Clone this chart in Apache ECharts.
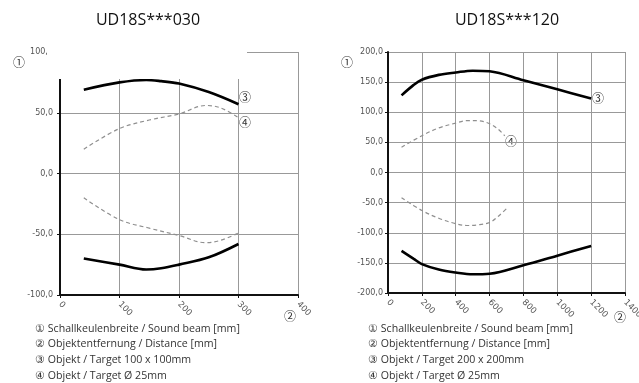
<!DOCTYPE html>
<html><head><meta charset="utf-8">
<script src="https://cdn.jsdelivr.net/npm/echarts@6/dist/echarts.min.js"></script>
<style>html,body{margin:0;padding:0;background:#fff}#c{width:639px;height:383px}</style>
</head><body><div id="c"></div>
<script>
// ---- Data: left chart UD18S***030 ----
const titles = ['UD18S***030', 'UD18S***120'];
const leftTargetX = [40, 100, 145, 170, 200, 250, 300];
const leftTargetUpper = [69, 75, 77, 76, 74, 67, 57];
const leftTargetLower = [-70, -75, -79, -78, -75, -69, -58];
const leftSmallX = [40, 100, 150, 200, 245, 270, 300];
const leftSmallUpper = [20, 37, 44, 49, 56, 54, 46];
const leftSmallLower = [-20, -38, -45, -51, -57, -55, -49];
// ---- Data: right chart UD18S***120 ----
const rightTargetX = [80, 150, 200, 300, 400, 500, 600, 800, 1000, 1200];
const rightTargetUpper = [128, 145, 154, 162, 166, 169, 168, 153, 138, 123];
const rightTargetLower = [-130, -143, -152, -161, -166, -169, -168, -154, -138, -122];
const rightSmallXUpper = [80, 200, 300, 400, 465, 530, 600, 650, 690];
const rightSmallUpper = [42, 61, 74, 82, 86, 86, 81, 72, 61];
const rightSmallXLower = [80, 200, 300, 400, 465, 530, 600, 650, 700];
const rightSmallLower = [-42, -63, -76, -85, -88, -87, -83, -73, -60];
// ---- Axis ticks ----
const leftXTicks = {min: 0, max: 400, interval: 100};
const leftYTicks = {min: -100, max: 100, interval: 50};
const rightXTicks = {min: 0, max: 1400, interval: 200};
const rightYTicks = {min: -200, max: 200, interval: 50};
// ---- Legend lines ----
const legendLeft = ['① Schallkeulenbreite / Sound beam [mm]', '② Objektentfernung / Distance [mm]', '③ Objekt / Target 100 x 100mm', '④ Objekt / Target Ø 25mm'];
const legendRight = ['① Schallkeulenbreite / Sound beam [mm]', '② Objektentfernung / Distance [mm]', '③ Objekt / Target 200 x 200mm', '④ Objekt / Target Ø 25mm'];

const pairs = (xs, ys) => xs.map((x, i) => [x, ys[i]]);
const chart = echarts.init(document.getElementById('c'));
const axisLbl = {fontSize: 8, color: '#555', fontFamily: 'DejaVu Sans'};
function xAx(gi, t) {
  return {type: 'value', gridIndex: gi, min: t.min, max: t.max, interval: t.interval,
    axisLine: {show: true, onZero: false, lineStyle: {color: '#111', width: 2}},
    axisTick: {show: true, length: 3, lineStyle: {color: '#111'}},
    axisLabel: Object.assign({rotate: -45, margin: 8, formatter: v => String(v)}, axisLbl, {fontSize: 8.5}),
    splitLine: {show: true, lineStyle: {color: '#999', width: 1}}};
}
function yAx(gi, t, m) {
  return {type: 'value', gridIndex: gi, min: t.min, max: t.max, interval: t.interval,
    axisLine: {show: true, onZero: false, lineStyle: {color: '#111', width: 2}},
    axisTick: {show: true, length: 3, lineStyle: {color: '#111'}},
    axisLabel: Object.assign({margin: m, formatter: v => v.toFixed(1).replace('.', ',')}, axisLbl),
    splitLine: {show: true, lineStyle: {color: '#999', width: 1}}};
}
const thick = {color: '#000', width: 2.6};
const dashed = {color: '#8f8f8f', width: 1.2, type: [4, 3]};
function ser(gi, data, ls) {
  return {type: 'line', xAxisIndex: gi, yAxisIndex: gi, data, smooth: 0.35, showSymbol: false, lineStyle: ls, silent: true};
}
const circ = 'Noto Sans CJK SC';
const graphics = [
  {type: 'rect', shape: {x: 47, y: 42, width: 200, height: 37}, style: {fill: '#fff'}, z: 100},
  {type: 'text', style: {text: titles[0], x: 148, y: 20, font: '16px "Open Sans"', fill: '#111', textAlign: 'center', textVerticalAlign: 'middle'}},
  {type: 'text', style: {text: titles[1], x: 507, y: 20, font: '16px "Open Sans"', fill: '#111', textAlign: 'center', textVerticalAlign: 'middle'}},
  {type: 'text', style: {text: '①', x: 19, y: 62, font: '12px "' + circ + '"', fill: '#333', textAlign: 'center', textVerticalAlign: 'middle'}},
  {type: 'text', style: {text: '①', x: 347, y: 62, font: '12px "' + circ + '"', fill: '#333', textAlign: 'center', textVerticalAlign: 'middle'}},
  {type: 'text', style: {text: '②', x: 290, y: 316, font: '12px "' + circ + '"', fill: '#333', textAlign: 'center', textVerticalAlign: 'middle'}, z: 101},
  {type: 'text', style: {text: '②', x: 620, y: 317, font: '12px "' + circ + '"', fill: '#333', textAlign: 'center', textVerticalAlign: 'middle'}, z: 101},
  {type: 'text', style: {text: '③', x: 245, y: 97, font: '12px "' + circ + '"', fill: '#333', textAlign: 'center', textVerticalAlign: 'middle'}},
  {type: 'text', style: {text: '④', x: 245, y: 122, font: '12px "' + circ + '"', fill: '#333', textAlign: 'center', textVerticalAlign: 'middle'}},
  {type: 'text', style: {text: '③', x: 598, y: 98, font: '12px "' + circ + '"', fill: '#333', textAlign: 'center', textVerticalAlign: 'middle'}},
  {type: 'text', style: {text: '④', x: 511, y: 141, font: '12px "' + circ + '"', fill: '#333', textAlign: 'center', textVerticalAlign: 'middle'}}
];
const legY = [329, 344, 360, 376];
legendLeft.forEach((t, i) => graphics.push({type: 'text', style: {text: t, x: 35, y: legY[i], font: '10.6px "Open Sans"', fill: '#333', textVerticalAlign: 'middle'}}));
legendRight.forEach((t, i) => graphics.push({type: 'text', style: {text: t, x: 368, y: legY[i], font: '10.6px "Open Sans"', fill: '#333', textVerticalAlign: 'middle'}}));

chart.setOption({
  animation: false,
  grid: [
    {left: 60, top: 52, width: 238, height: 243, outerBoundsMode: 'none', containLabel: false},
    {left: 388, top: 52, width: 237, height: 241, outerBoundsMode: 'none', containLabel: false}
  ],
  xAxis: [xAx(0, leftXTicks), xAx(1, rightXTicks)],
  yAxis: [yAx(0, leftYTicks, 7), yAx(1, rightYTicks, 5)],
  series: [
    ser(0, pairs(leftTargetX, leftTargetUpper), thick),
    ser(0, pairs(leftTargetX, leftTargetLower), thick),
    ser(0, pairs(leftSmallX, leftSmallUpper), dashed),
    ser(0, pairs(leftSmallX, leftSmallLower), dashed),
    ser(1, pairs(rightTargetX, rightTargetUpper), thick),
    ser(1, pairs(rightTargetX, rightTargetLower), thick),
    ser(1, pairs(rightSmallXUpper, rightSmallUpper), dashed),
    ser(1, pairs(rightSmallXLower, rightSmallLower), dashed)
  ],
  graphic: graphics
});
</script></body></html>
